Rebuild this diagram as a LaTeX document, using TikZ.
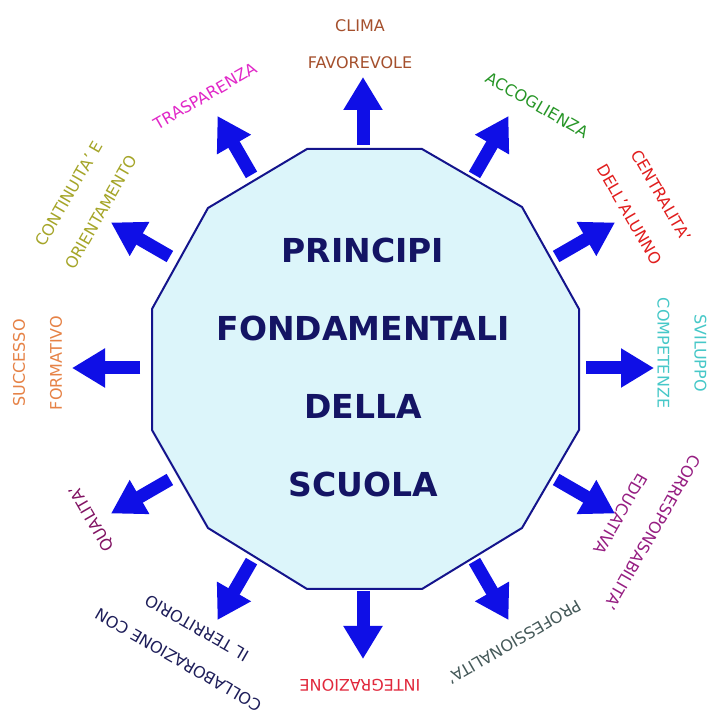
\documentclass[tikz,border=0pt]{standalone}
\usepackage{fontspec}
\setmainfont{DejaVu Sans}
\usetikzlibrary{arrows.meta,calc}
\definecolor{climacol}{RGB}{165,80,45}
\definecolor{trascol}{RGB}{225,40,200}
\definecolor{contcol}{RGB}{165,165,40}
\definecolor{succcol}{RGB}{230,130,70}
\definecolor{qualcol}{RGB}{130,20,100}
\definecolor{collcol}{RGB}{30,30,90}
\definecolor{integcol}{RGB}{225,40,60}
\definecolor{profcol}{RGB}{70,90,90}
\definecolor{correscol}{RGB}{150,30,130}
\definecolor{svilcol}{RGB}{70,200,200}
\definecolor{centcol}{RGB}{225,30,30}
\definecolor{accolcol}{RGB}{40,150,40}
\definecolor{arrowblue}{RGB}{15,15,230}
\definecolor{polyfill}{RGB}{220,245,250}
\definecolor{polydraw}{RGB}{20,20,140}
\definecolor{titlecol}{RGB}{20,20,100}
\begin{document}
\begin{tikzpicture}[x=1pt,y=1pt,
  bigarrow/.style={draw=arrowblue, line width=13pt, -{Triangle[width=37pt,length=33pt]}},
  lab/.style={font=\fontsize{16}{37}\selectfont, align=center, inner sep=0pt},
  title/.style={font=\bfseries\fontsize{33}{78}\selectfont, text=titlecol, align=center, inner sep=0pt},
  poly/.style={draw=polydraw, fill=polyfill, line width=2pt, line join=miter}]
\useasboundingbox (0,0) rectangle (707,710);
\fill[white] (0,0) rectangle (707,710);
\coordinate (C) at (363,342);
\draw[poly] (307,561) -- (422,561) -- (522,503) -- (579,401) -- (579,280) -- (522,182)
  -- (422,121) -- (307,121) -- (208,182) -- (152,280) -- (152,401) -- (208,502) -- cycle;
\node[title] (title) at (363,342.5) {PRINCIPI\\FONDAMENTALI\\DELLA\\SCUOLA};
\foreach \a in {0,30,...,330} {
  \path (C) ++(\a:223) coordinate (t\a);
  \path (C) ++(\a:291) coordinate (h\a);
  \draw[bigarrow] (t\a) -- (h\a);
}
\node[lab, text=climacol] (clima) at (360,666) {CLIMA\\FAVOREVOLE};
\node[lab, text=trascol, rotate=30] (tras) at (205,614) {TRASPARENZA};
\node[lab, text=contcol, rotate=60] (cont) at (85,507) {CONTINUITA' E\\ORIENTAMENTO};
\node[lab, text=succcol, rotate=90] (succ) at (37.5,347) {SUCCESSO\\FORMATIVO};
\node[lab, text=qualcol, rotate=120] (qual) at (92,192) {QUALITA'};
\node[lab, text=collcol, rotate=150] (coll) at (187.5,66) {COLLABORAZIONE CON\\IL TERRITORIO};
\node[lab, text=integcol, rotate=180] (integ) at (360,25) {INTEGRAZIONE};
\node[lab, text=profcol, rotate=210] (prof) at (514,68) {PROFESSIONALITA'};
\node[lab, text=correscol, rotate=240] (corr) at (636.5,186.5) {CORRESPONSABILITA'\\EDUCATIVA};
\node[lab, text=svilcol, rotate=270] (svil) at (682,357) {SVILUPPO\\COMPETENZE};
\node[lab, text=centcol, rotate=300] (cent) at (645.5,505) {CENTRALITA'\\DELL'ALUNNO};
\node[lab, text=accolcol, rotate=330] (acco) at (537,605) {ACCOGLIENZA};
\end{tikzpicture}
\end{document}
